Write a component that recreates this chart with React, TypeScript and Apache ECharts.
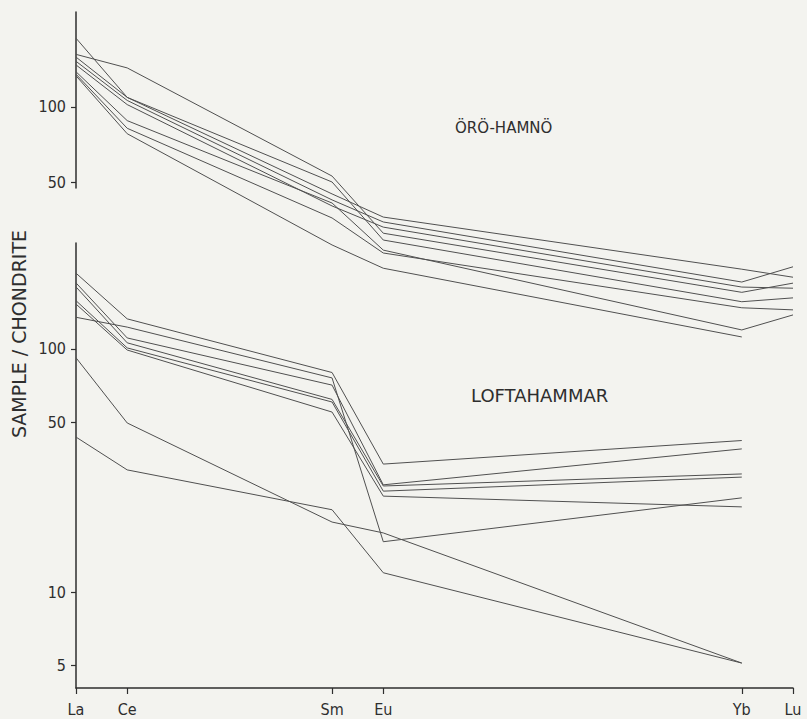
import React, { useEffect, useRef } from 'react';
import * as echarts from 'echarts';

// REE elements and their atomic numbers (x positions)
const ELEMENTS = ['La', 'Ce', 'Sm', 'Eu', 'Yb', 'Lu'];
const ATOMIC_NUMBERS = [57, 58, 62, 63, 70, 71];

// Tick values (sample / chondrite)
const UPPER_TICKS = [50, 100];
const LOWER_TICKS = [5, 10, 50, 100];

// Örö-Hamnö samples (La, Ce, Sm, Eu, Yb, Lu)
const oro1 = [188, 109, 50.0, 29.3, 16.6, 17.2];
const oro2 = [162, 143, 52.8, 31.2, 18.1, 19.7];
const oro3 = [158, 109, 44.8, 36.2, 22.4, 20.8];
const oro4 = [152, 106, 42.4, 34.6, 19.9, 22.9];
const oro5 = [147, 102, 40.1, 33.0, 19.0, 18.8];
const oro6 = [138, 88, 41.2, 26.7, 12.8, 14.7];
const oro7 = [135, 82, 35.9, 26.0, 15.7, 15.4];
const oro8 = [133, 78, 28.0, 22.6, 12.0, null];
const ORO_SAMPLES = [oro1, oro2, oro3, oro4, oro5, oro6, oro7, oro8];

// Loftahammar samples (La, Ce, Sm, Eu, Yb, Lu)
const loft1 = [205, 133, 80, 33.6, 42.0, null];
const loft2 = [135, 123, 76, 16.1, 24.4, null];
const loft3 = [187, 111, 71, 27.6, 38.8, null];
const loft4 = [180, 106, 62, 27.3, 30.6, null];
const loft5 = [158, 101, 60.5, 26.0, 29.7, null];
const loft6 = [153, 99, 55, 24.8, 22.4, null];
const loft7 = [92, 49.6, 19.4, 17.5, 5.1, null];
const loft8 = [43.4, 31.8, 21.8, 12.0, 5.1, null];
const LOFT_SAMPLES = [loft1, loft2, loft3, loft4, loft5, loft6, loft7, loft8];

const TITLE_UPPER = 'ÖRÖ-HAMNÖ';
const TITLE_LOWER = 'LOFTAHAMMAR';
const Y_NAME = 'SAMPLE / CHONDRITE';

const INK = '#2e2e2e';
const LINE = '#505050';
const FONT = '"Liberation Sans Narrow", "DejaVu Sans Condensed", "DejaVu Sans", sans-serif';
const TITLE_FONT = '"DejaVu Sans", sans-serif';

const toSeriesData = (vals: (number | null)[]) =>
  ATOMIC_NUMBERS.map((z, i) => (vals[i] == null ? null : [z, Math.log10(vals[i] as number)])).filter(
    (d) => d !== null
  );

const yAxisBase = (gridIndex: number, min: number, max: number, ticks: number[]) => {
  const logs = ticks.map((t) => Math.log10(t));
  return {
    gridIndex,
    type: 'value',
    min,
    max,
    axisLine: { show: true, onZero: false, lineStyle: { color: INK, width: 1.5 } },
    axisTick: { show: true, customValues: logs, length: 5, lineStyle: { color: INK, width: 1.2 } },
    axisLabel: {
      show: true,
      customValues: logs,
      margin: 10,
      color: INK,
      fontSize: 16,
      fontFamily: FONT,
      formatter: (v: number) => String(Math.round(Math.pow(10, v))),
    },
    splitLine: { show: false },
  };
};

export default function App() {
  const ref = useRef<HTMLDivElement>(null);
  useEffect(() => {
    const chart = echarts.init(ref.current!, null, { renderer: 'svg' });
    const series: any[] = [];
    ORO_SAMPLES.forEach((s, i) => {
      series.push({
        name: 'Örö-Hamnö ' + (i + 1),
        type: 'line',
        xAxisIndex: 0,
        yAxisIndex: 0,
        data: toSeriesData(s),
        symbol: 'none',
        clip: false,
        lineStyle: { color: LINE, width: 1 },
      });
    });
    LOFT_SAMPLES.forEach((s, i) => {
      series.push({
        name: 'Loftahammar ' + (i + 1),
        type: 'line',
        xAxisIndex: 1,
        yAxisIndex: 1,
        data: toSeriesData(s),
        symbol: 'none',
        clip: false,
        lineStyle: { color: LINE, width: 1 },
      });
    });
    chart.setOption({
      animation: false,
      backgroundColor: '#f3f3ef',
      grid: [
        { left: 76, top: 12, width: 717, height: 176 },
        { left: 76, top: 243, width: 717, height: 445 },
      ],
      xAxis: [
        { gridIndex: 0, type: 'value', min: 57, max: 71, show: false },
        {
          gridIndex: 1,
          type: 'value',
          min: 57,
          max: 71,
          axisLine: { show: true, onZero: false, lineStyle: { color: INK, width: 1.5 } },
          axisTick: { show: true, customValues: ATOMIC_NUMBERS, length: 6, lineStyle: { color: INK, width: 1.2 } },
          axisLabel: {
            show: true,
            customValues: ATOMIC_NUMBERS,
            margin: 13,
            color: INK,
            fontSize: 16,
            fontFamily: FONT,
            formatter: (v: number) => ELEMENTS[ATOMIC_NUMBERS.indexOf(Math.round(v))] ?? '',
          },
          splitLine: { show: false },
        },
      ],
      yAxis: [
        yAxisBase(0, 1.675, 2.379, UPPER_TICKS),
        yAxisBase(1, 0.605, 2.436, LOWER_TICKS),
      ],
      graphic: [
        {
          type: 'text',
          x: 455,
          y: 128,
          style: { text: TITLE_UPPER, fill: INK, font: '15px ' + TITLE_FONT, textVerticalAlign: 'middle' },
        },
        {
          type: 'text',
          x: 471,
          y: 395,
          style: { text: TITLE_LOWER, fill: INK, font: '18px ' + TITLE_FONT, textVerticalAlign: 'middle' },
        },
        {
          type: 'text',
          x: 19,
          y: 334,
          rotation: Math.PI / 2,
          style: {
            text: Y_NAME,
            fill: INK,
            font: '19px ' + TITLE_FONT,
            textAlign: 'center',
            textVerticalAlign: 'middle',
          },
        },
      ],
      series,
    });
    return () => chart.dispose();
  }, []);
  return <div ref={ref} style={{ position: 'absolute', left: 0, top: 0, width: 807, height: 719 }} />;
}
